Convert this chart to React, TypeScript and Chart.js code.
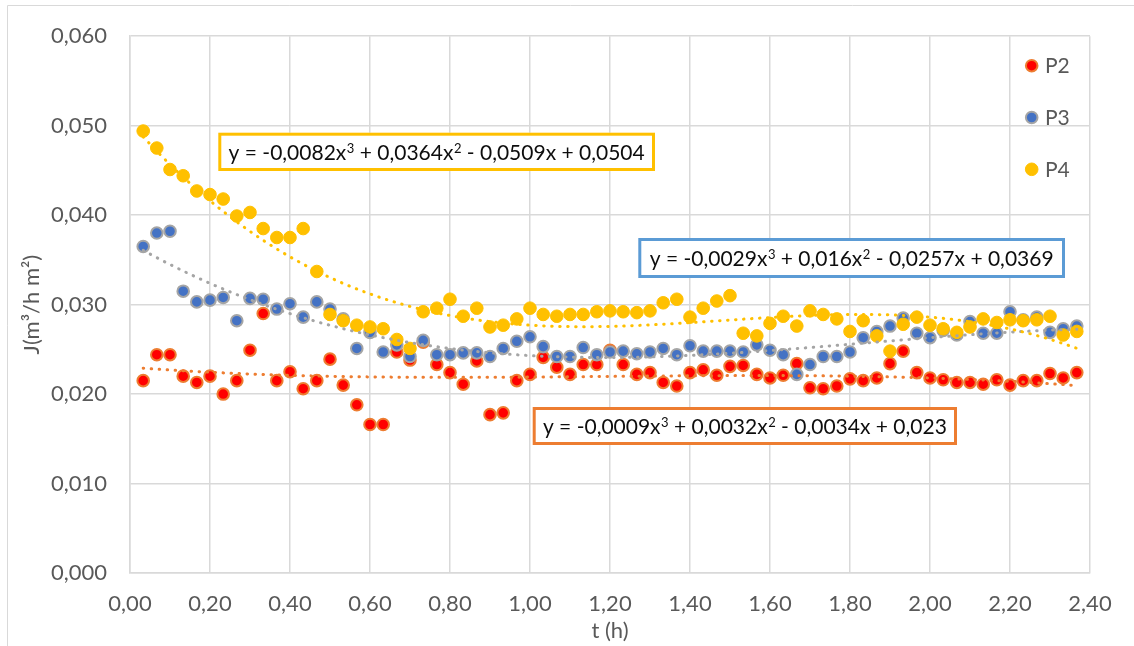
import React, { useEffect, useRef } from "react";
import { Chart, registerables } from "chart.js";

Chart.register(...registerables);

// ---- data ----
const timeH = [
  0.033, 0.067, 0.1, 0.133, 0.167, 0.2, 0.233, 0.267, 0.3, 0.333,
  0.367, 0.4, 0.433, 0.467, 0.5, 0.533, 0.567, 0.6, 0.633, 0.667,
  0.7, 0.733, 0.767, 0.8, 0.833, 0.867, 0.9, 0.933, 0.967, 1.0,
  1.033, 1.067, 1.1, 1.133, 1.167, 1.2, 1.233, 1.267, 1.3, 1.333,
  1.367, 1.4, 1.433, 1.467, 1.5, 1.533, 1.567, 1.6, 1.633, 1.667,
  1.7, 1.733, 1.767, 1.8, 1.833, 1.867, 1.9, 1.933, 1.967, 2.0,
  2.033, 2.067, 2.1, 2.133, 2.167, 2.2, 2.233, 2.267, 2.3, 2.333, 2.367,
];

const p2Values = [
  0.0215, 0.0244, 0.0244, 0.022, 0.0213, 0.022, 0.02, 0.0215, 0.0249, 0.029,
  0.0215, 0.0225, 0.0206, 0.0215, 0.0239, 0.021, 0.0188, 0.0166, 0.0166, 0.0247,
  0.0238, 0.0258, 0.0233, 0.0224, 0.0211, 0.0237, 0.0177, 0.0179, 0.0215, 0.0222,
  0.0241, 0.023, 0.0222, 0.0233, 0.0233, 0.0249, 0.0233, 0.0222, 0.0224, 0.0213,
  0.0209, 0.0224, 0.0227, 0.0221, 0.0231, 0.0232, 0.0222, 0.0218, 0.0221, 0.0234,
  0.0207, 0.0206, 0.0209, 0.0217, 0.0215, 0.0218, 0.0234, 0.0248, 0.0224, 0.0218,
  0.0216, 0.0213, 0.0213, 0.0211, 0.0216, 0.021, 0.0215, 0.0215, 0.0223, 0.0218, 0.0224,
];

const p3Values = [
  0.0365, 0.038, 0.0382, 0.0315, 0.0303, 0.0305, 0.0308, 0.0282, 0.0307, 0.0306,
  0.0295, 0.0301, 0.0286, 0.0303, 0.0295, 0.0284, 0.0251, 0.0269, 0.0247, 0.0255,
  0.0242, 0.026, 0.0244, 0.0244, 0.0246, 0.0246, 0.0242, 0.0251, 0.0259, 0.0264,
  0.0253, 0.0242, 0.0242, 0.0252, 0.0244, 0.0247, 0.0248, 0.0245, 0.0247, 0.0251,
  0.0244, 0.0254, 0.0248, 0.0248, 0.0248, 0.0247, 0.0255, 0.0249, 0.0244, 0.0222,
  0.0233, 0.0242, 0.0242, 0.0247, 0.0263, 0.027, 0.0276, 0.0285, 0.0268, 0.0263,
  0.0271, 0.0266, 0.0281, 0.0268, 0.0268, 0.0292, 0.0283, 0.0286, 0.0269, 0.0273, 0.0276,
];

const p4Values = [
  0.0494, 0.0475, 0.0451, 0.0444, 0.0427, 0.0423, 0.0418, 0.0399, 0.0403, 0.0385,
  0.0375, 0.0375, 0.0385, 0.0337, 0.0289, 0.0282, 0.0277, 0.0275, 0.0273, 0.0261,
  0.0251, 0.0292, 0.0296, 0.0306, 0.0287, 0.0296, 0.0275, 0.0277, 0.0284, 0.0296,
  0.0289, 0.0287, 0.0289, 0.0289, 0.0292, 0.0293, 0.0292, 0.0291, 0.0293, 0.0302,
  0.0306, 0.0286, 0.0296, 0.0304, 0.031, 0.0268, 0.0265, 0.0279, 0.0287, 0.0276,
  0.0293, 0.0289, 0.0284, 0.027, 0.0282, 0.0265, 0.0248, 0.0278, 0.0286, 0.0277,
  0.0273, 0.0269, 0.0275, 0.0284, 0.028, 0.0283, 0.0282, 0.0283, 0.0287, 0.0266, 0.027,
];

// trendline coefficients (as printed on the chart): a x^3 + b x^2 + c x + d
const p2Coef = [-0.0009, 0.0032, -0.0034, 0.023];
const p3Coef = [-0.0029, 0.016, -0.0257, 0.0369];
const p4Coef = [-0.0082, 0.0364, -0.0509, 0.0504];

const seriesNames = ["P2", "P3", "P4"];

const p4Equation = [["y = -0,0082x", "3"], [" + 0,0364x", "2"], [" - 0,0509x + 0,0504", ""]];
const p3Equation = [["y = -0,0029x", "3"], [" + 0,016x", "2"], [" - 0,0257x + 0,0369", ""]];
const p2Equation = [["y = -0,0009x", "3"], [" + 0,0032x", "2"], [" - 0,0034x + 0,023", ""]];

const xTickValues = [0, 0.2, 0.4, 0.6, 0.8, 1.0, 1.2, 1.4, 1.6, 1.8, 2.0, 2.2, 2.4];
const yTickValues = [0, 0.01, 0.02, 0.03, 0.04, 0.05, 0.06];

const xTitle = "t (h)";
const yTitle = "J(m³/h m²)";

// ---- styling ----
const FONT = "Lato, 'Open Sans', sans-serif";
const GRID = "#D9D9D9";
const TEXT = "#595959";

function trendPoints(coef: number[]) {
  const x0 = timeH[0];
  const x1 = timeH[timeH.length - 1];
  const n = 150;
  const pts: { x: number; y: number }[] = [];
  for (let i = 0; i <= n; i++) {
    const x = x0 + ((x1 - x0) * i) / n;
    pts.push({ x, y: ((coef[0] * x + coef[1]) * x + coef[2]) * x + coef[3] });
  }
  return pts;
}

function toPoints(vals: number[]) {
  return timeH.map((t, i) => ({ x: t, y: vals[i] }));
}

const framePlugin = {
  id: "frame",
  beforeDraw(chart: any) {
    const ctx = chart.ctx;
    ctx.save();
    ctx.strokeStyle = GRID;
    ctx.lineWidth = 1;
    ctx.beginPath();
    ctx.moveTo(7.5, 646);
    ctx.lineTo(7.5, 5.5);
    ctx.lineTo(1134, 5.5);
    ctx.stroke();
    ctx.restore();
  },
};

const legendPlugin = {
  id: "overlayLegend",
  afterDraw(chart: any) {
    const ctx = chart.ctx;
    const sets = chart.data.datasets.filter((d: any) => !d.isTrend);
    sets.sort((a: any, b: any) => a.legendIndex - b.legendIndex);
    ctx.save();
    sets.forEach((ds: any, i: number) => {
      const cx = 1031.7;
      const cy = 65.7 + i * 51.8;
      ctx.beginPath();
      ctx.arc(cx, cy, ds.pointRadius, 0, Math.PI * 2);
      ctx.fillStyle = ds.backgroundColor;
      ctx.fill();
      if (ds.borderWidth > 0) {
        ctx.lineWidth = ds.borderWidth;
        ctx.strokeStyle = ds.borderColor;
        ctx.stroke();
      }
      ctx.font = `21px ${FONT}`;
      ctx.fillStyle = TEXT;
      ctx.textBaseline = "middle";
      ctx.textAlign = "left";
      ctx.fillText(ds.label, 1045, cy + 1);
    });
    ctx.restore();
  },
};

const equationBoxes = [
  { parts: p4Equation, color: "#FFC000", box: [218.3, 132.7, 655, 171] },
  { parts: p3Equation, color: "#5B9BD5", box: [638.3, 238, 1065, 278] },
  { parts: p2Equation, color: "#ED7D31", box: [532.7, 407, 957, 445] },
];

const equationPlugin = {
  id: "equations",
  afterDraw(chart: any) {
    const ctx = chart.ctx;
    ctx.save();
    const baseFont = `21px ${FONT}`;
    const supFont = `13px ${FONT}`;
    equationBoxes.forEach((eq) => {
      const [l, t, r, b] = eq.box;
      const lw = 3;
      ctx.fillStyle = "#FFFFFF";
      ctx.fillRect(l, t, r - l, b - t);
      ctx.strokeStyle = eq.color;
      ctx.lineWidth = lw;
      ctx.strokeRect(l + lw / 2, t + lw / 2, r - l - lw, b - t - lw);
      let total = 0;
      eq.parts.forEach(([txt, sup]) => {
        ctx.font = baseFont;
        total += ctx.measureText(txt).width;
        if (sup) {
          ctx.font = supFont;
          total += ctx.measureText(sup).width + 0.5;
        }
      });
      let x = (l + r) / 2 - total / 2;
      const baseline = (t + b) / 2 + 8;
      ctx.fillStyle = "#0D0D0D";
      ctx.textBaseline = "alphabetic";
      ctx.textAlign = "left";
      eq.parts.forEach(([txt, sup]) => {
        ctx.font = baseFont;
        ctx.fillText(txt, x, baseline);
        x += ctx.measureText(txt).width;
        if (sup) {
          ctx.font = supFont;
          ctx.fillText(sup, x + 0.5, baseline - 7);
          x += ctx.measureText(sup).width + 0.5;
        }
      });
    });
    ctx.restore();
  },
};

export default function App() {
  const canvasRef = useRef<HTMLCanvasElement | null>(null);

  useEffect(() => {
    if (!canvasRef.current) return;
    const trendStyle = {
      type: "scatter",
      showLine: true,
      pointRadius: 0,
      borderWidth: 3,
      borderDash: [0.5, 7.5],
      borderCapStyle: "round",
      fill: false,
      isTrend: true,
      order: 0,
    };
    const chart = new Chart(canvasRef.current, {
      type: "scatter",
      data: {
        datasets: [
          { ...trendStyle, label: "trend P4", data: trendPoints(p4Coef), borderColor: "#FFC000" },
          { ...trendStyle, label: "trend P3", data: trendPoints(p3Coef), borderColor: "#A5A5A5" },
          { ...trendStyle, label: "trend P2", data: trendPoints(p2Coef), borderColor: "#ED7D31" },
          {
            label: seriesNames[2],
            data: toPoints(p4Values),
            backgroundColor: "#FFC000",
            borderColor: "#FFC000",
            borderWidth: 1,
            pointRadius: 6.3,
            order: 1,
            legendIndex: 2,
          },
          {
            label: seriesNames[1],
            data: toPoints(p3Values),
            backgroundColor: "#4472C4",
            borderColor: "#A5A5A5",
            borderWidth: 2,
            pointRadius: 5.8,
            order: 2,
            legendIndex: 1,
          },
          {
            label: seriesNames[0],
            data: toPoints(p2Values),
            backgroundColor: "#FF0000",
            borderColor: "#ED7D31",
            borderWidth: 2,
            pointRadius: 5.8,
            order: 3,
            legendIndex: 0,
          },
        ] as any,
      },
      options: {
        animation: false,
        responsive: false,
        devicePixelRatio: 1,
        layout: { padding: { left: 10, right: 44, top: 31, bottom: 0 } },
        plugins: {
          legend: { display: false },
          tooltip: { enabled: false },
          title: { display: false },
        },
        scales: {
          x: {
            type: "linear",
            min: 0,
            max: 2.4,
            afterBuildTicks: (s: any) => {
              s.ticks = xTickValues.map((v) => ({ value: v }));
            },
            afterFit: (s: any) => {
              s.height = 73;
            },
            ticks: {
              autoSkip: false,
              maxRotation: 0,
              padding: 18,
              color: TEXT,
              font: { family: FONT, size: 22 },
              callback: (v: any) => Number(v).toFixed(2).replace(".", ","),
            },
            grid: { color: GRID, lineWidth: 1.5, drawTicks: false },
            border: { color: GRID, width: 1.5 },
            title: {
              display: true,
              text: xTitle,
              color: TEXT,
              font: { family: FONT, size: 22 },
              padding: { top: 0, bottom: 2 },
            },
          },
          y: {
            type: "linear",
            min: 0,
            max: 0.06,
            afterBuildTicks: (s: any) => {
              s.ticks = yTickValues.map((v) => ({ value: v }));
            },
            afterFit: (s: any) => {
              s.width = 120;
            },
            ticks: {
              padding: 23,
              color: TEXT,
              font: { family: FONT, size: 22 },
              callback: (v: any) => Number(v).toFixed(3).replace(".", ","),
            },
            grid: { color: GRID, lineWidth: 1.5, drawTicks: false },
            border: { color: GRID, width: 1.5 },
            title: {
              display: true,
              text: yTitle,
              color: TEXT,
              font: { family: FONT, size: 22 },
              padding: { top: 9, bottom: 0 },
            },
          },
        },
      } as any,
      plugins: [framePlugin, legendPlugin, equationPlugin],
    });
    return () => chart.destroy();
  }, []);

  return (
    <div style={{ position: "absolute", left: 0, top: 0, width: 1134, height: 646, background: "#fff" }}>
      <canvas ref={canvasRef} width={1134} height={646} style={{ display: "block" }} />
    </div>
  );
}
